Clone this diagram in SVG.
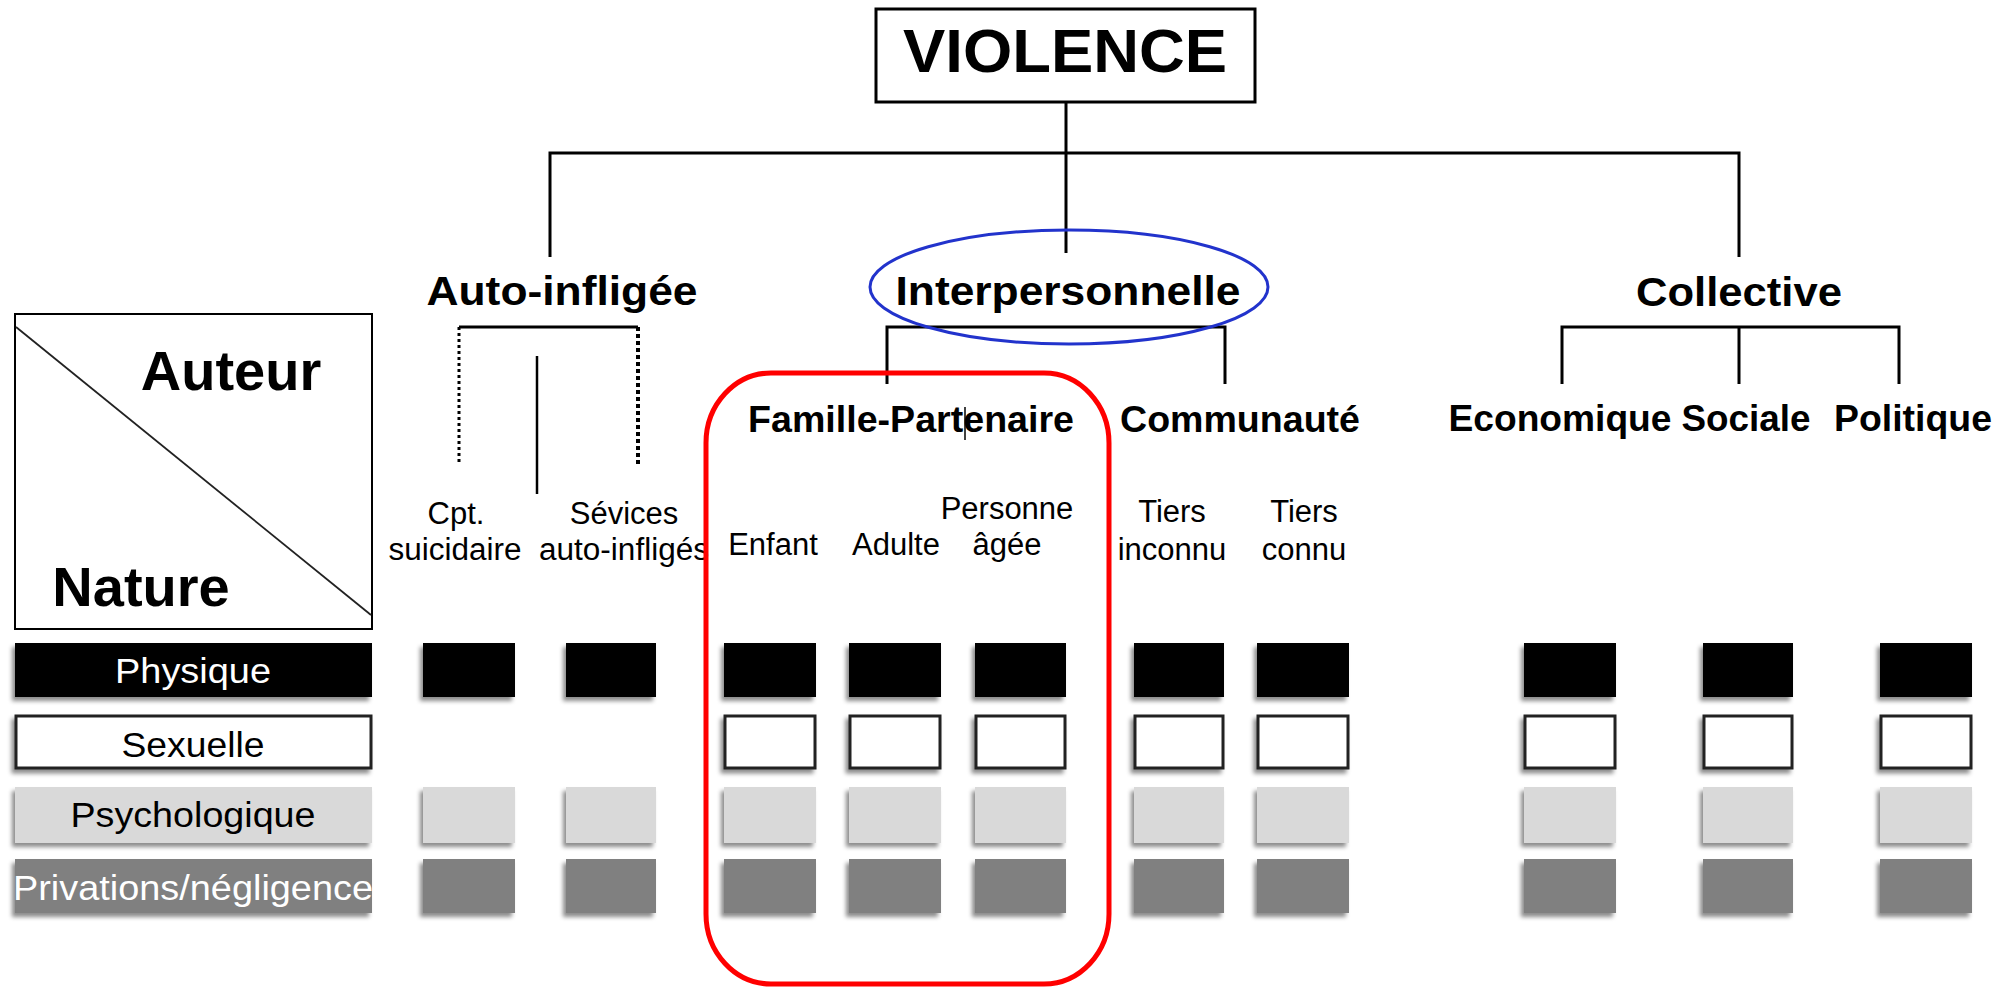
<svg xmlns="http://www.w3.org/2000/svg" width="2008" height="988" viewBox="0 0 2008 988">
<defs>
<filter id="sh" x="-20%" y="-20%" width="140%" height="150%">
<feDropShadow dx="-3" dy="4" stdDeviation="2" flood-color="#000" flood-opacity="0.45"/>
</filter>
<style>
text{font-family:"Liberation Sans",Arial,sans-serif;fill:#000}
.b{font-weight:bold}
.t1{font-size:41px;font-weight:bold;text-anchor:middle}
.t2{font-size:36px;font-weight:bold;text-anchor:middle}
.t3{font-size:31px;text-anchor:middle}
.rl{font-size:35px;text-anchor:middle}
.ln{stroke:#000;stroke-width:3;fill:none}
.blk{fill:#000}
.wht{fill:#fff;stroke:#222;stroke-width:3}
.lgt{fill:#d9d9d9}
.drk{fill:#808080}
</style>
</defs>
<rect width="2008" height="988" fill="#fff"/>

<g id="connectors">
<path class="ln" d="M1066 102 V253"/>
<path class="ln" d="M550 257 V153 H1739 V257"/>
<path class="ln" d="M459 327 H638"/>
<path d="M459 327 V462" stroke="#000" stroke-width="3" stroke-dasharray="3,3" fill="none"/>
<path d="M638 327 V465" stroke="#000" stroke-width="4" stroke-dasharray="4,3" fill="none"/>
<path d="M537 356 V494" stroke="#000" stroke-width="2.5" fill="none"/>
<path class="ln" d="M887 384 V327 H1225 V384"/>
<path class="ln" d="M1562 384 V327 H1899 V384 M1739 327 V384"/>
<path d="M965 407 V440" stroke="#000" stroke-width="1.5"/>
</g>

<g id="violence">
<rect x="876" y="9" width="379" height="93" fill="#fff" stroke="#000" stroke-width="3"/>
<text x="1065" y="72" class="b" font-size="61" text-anchor="middle" textLength="324" lengthAdjust="spacingAndGlyphs">VIOLENCE</text>
</g>

<g id="auto-infligee">
<text x="562" y="305" class="t1" textLength="271" lengthAdjust="spacingAndGlyphs">Auto-infligée</text>
</g>
<g id="interpersonnelle">
<text x="1068" y="305" class="t1" textLength="345" lengthAdjust="spacingAndGlyphs">Interpersonnelle</text>
<ellipse cx="1069" cy="287" rx="199" ry="57" fill="none" stroke="#2233cc" stroke-width="3"/>
</g>
<g id="collective">
<text x="1739" y="306" class="t1" textLength="206" lengthAdjust="spacingAndGlyphs">Collective</text>
</g>

<g id="famille-partenaire">
<text x="911" y="432" class="t2" textLength="326" lengthAdjust="spacingAndGlyphs">Famille-Partenaire</text>
</g>
<g id="communaute">
<text x="1240" y="432" class="t2" textLength="240" lengthAdjust="spacingAndGlyphs">Communauté</text>
</g>
<g id="economique">
<text x="1560" y="431" class="t2" textLength="223" lengthAdjust="spacingAndGlyphs">Economique</text>
</g>
<g id="sociale">
<text x="1746" y="431" class="t2" textLength="129" lengthAdjust="spacingAndGlyphs">Sociale</text>
</g>
<g id="politique">
<text x="1913" y="431" class="t2" textLength="158" lengthAdjust="spacingAndGlyphs">Politique</text>
</g>

<g id="cpt-suicidaire">
<text x="456" y="524" class="t3">Cpt.</text>
<text x="455" y="560" class="t3" textLength="133" lengthAdjust="spacingAndGlyphs">suicidaire</text>
</g>
<g id="sevices">
<text x="624" y="524" class="t3">Sévices</text>
<text x="624" y="560" class="t3" textLength="170" lengthAdjust="spacingAndGlyphs">auto-infligés</text>
</g>
<g id="enfant"><text x="773" y="555" class="t3">Enfant</text></g>
<g id="adulte"><text x="896" y="555" class="t3">Adulte</text></g>
<g id="personne-agee">
<text x="1007" y="519" class="t3">Personne</text>
<text x="1007" y="555" class="t3">âgée</text>
</g>
<g id="tiers-inconnu">
<text x="1172" y="522" class="t3">Tiers</text>
<text x="1172" y="560" class="t3">inconnu</text>
</g>
<g id="tiers-connu">
<text x="1304" y="522" class="t3">Tiers</text>
<text x="1304" y="560" class="t3">connu</text>
</g>

<g id="auteur-nature">
<rect x="15" y="314" width="357" height="315" fill="#fff" stroke="#000" stroke-width="2"/>
<path d="M16 327 L371 615" stroke="#222" stroke-width="1.8"/>
<text x="231" y="390" class="b" font-size="56" text-anchor="middle">Auteur</text>
<text x="141" y="606" class="b" font-size="56" text-anchor="middle">Nature</text>
</g>

<g id="legend">
<rect x="15" y="643" width="357" height="54" class="blk" filter="url(#sh)"/>
<text x="193" y="683" class="rl" fill="#fff" style="fill:#fff" textLength="156" lengthAdjust="spacingAndGlyphs">Physique</text>
<rect x="16" y="716" width="355" height="52" class="wht" filter="url(#sh)"/>
<text x="193" y="757" class="rl" textLength="143" lengthAdjust="spacingAndGlyphs">Sexuelle</text>
<rect x="15" y="787" width="357" height="56" class="lgt" filter="url(#sh)"/>
<text x="193" y="827" class="rl" textLength="245" lengthAdjust="spacingAndGlyphs">Psychologique</text>
<rect x="15" y="859" width="357" height="54" class="drk" filter="url(#sh)"/>
<text x="193" y="900" class="rl" style="fill:#fff" textLength="360" lengthAdjust="spacingAndGlyphs">Privations/négligence</text>
</g>

<g id="grid">
<g id="col-suicidaire">
<rect x="423" y="643" width="92" height="54" class="blk" filter="url(#sh)"/>
<rect x="423" y="787" width="92" height="56" class="lgt" filter="url(#sh)"/>
<rect x="423" y="859" width="92" height="54" class="drk" filter="url(#sh)"/>
</g>
<g id="col-sevices">
<rect x="566" y="643" width="90" height="54" class="blk" filter="url(#sh)"/>
<rect x="566" y="787" width="90" height="56" class="lgt" filter="url(#sh)"/>
<rect x="566" y="859" width="90" height="54" class="drk" filter="url(#sh)"/>
</g>
<g id="col-enfant">
<rect x="724" y="643" width="92" height="54" class="blk" filter="url(#sh)"/>
<rect x="725" y="716" width="90" height="52" class="wht" filter="url(#sh)"/>
<rect x="724" y="787" width="92" height="56" class="lgt" filter="url(#sh)"/>
<rect x="724" y="859" width="92" height="54" class="drk" filter="url(#sh)"/>
</g>
<g id="col-adulte">
<rect x="849" y="643" width="92" height="54" class="blk" filter="url(#sh)"/>
<rect x="850" y="716" width="90" height="52" class="wht" filter="url(#sh)"/>
<rect x="849" y="787" width="92" height="56" class="lgt" filter="url(#sh)"/>
<rect x="849" y="859" width="92" height="54" class="drk" filter="url(#sh)"/>
</g>
<g id="col-personne">
<rect x="975" y="643" width="91" height="54" class="blk" filter="url(#sh)"/>
<rect x="976" y="716" width="89" height="52" class="wht" filter="url(#sh)"/>
<rect x="975" y="787" width="91" height="56" class="lgt" filter="url(#sh)"/>
<rect x="975" y="859" width="91" height="54" class="drk" filter="url(#sh)"/>
</g>
<g id="col-inconnu">
<rect x="1134" y="643" width="90" height="54" class="blk" filter="url(#sh)"/>
<rect x="1135" y="716" width="88" height="52" class="wht" filter="url(#sh)"/>
<rect x="1134" y="787" width="90" height="56" class="lgt" filter="url(#sh)"/>
<rect x="1134" y="859" width="90" height="54" class="drk" filter="url(#sh)"/>
</g>
<g id="col-connu">
<rect x="1257" y="643" width="92" height="54" class="blk" filter="url(#sh)"/>
<rect x="1258" y="716" width="90" height="52" class="wht" filter="url(#sh)"/>
<rect x="1257" y="787" width="92" height="56" class="lgt" filter="url(#sh)"/>
<rect x="1257" y="859" width="92" height="54" class="drk" filter="url(#sh)"/>
</g>
<g id="col-economique">
<rect x="1524" y="643" width="92" height="54" class="blk" filter="url(#sh)"/>
<rect x="1525" y="716" width="90" height="52" class="wht" filter="url(#sh)"/>
<rect x="1524" y="787" width="92" height="56" class="lgt" filter="url(#sh)"/>
<rect x="1524" y="859" width="92" height="54" class="drk" filter="url(#sh)"/>
</g>
<g id="col-sociale">
<rect x="1703" y="643" width="90" height="54" class="blk" filter="url(#sh)"/>
<rect x="1704" y="716" width="88" height="52" class="wht" filter="url(#sh)"/>
<rect x="1703" y="787" width="90" height="56" class="lgt" filter="url(#sh)"/>
<rect x="1703" y="859" width="90" height="54" class="drk" filter="url(#sh)"/>
</g>
<g id="col-politique">
<rect x="1880" y="643" width="92" height="54" class="blk" filter="url(#sh)"/>
<rect x="1881" y="716" width="90" height="52" class="wht" filter="url(#sh)"/>
<rect x="1880" y="787" width="92" height="56" class="lgt" filter="url(#sh)"/>
<rect x="1880" y="859" width="92" height="54" class="drk" filter="url(#sh)"/>
</g>
</g>

<g id="highlight-famille">
<rect x="706" y="373" width="403" height="611" rx="65" ry="70" fill="none" stroke="#ff0000" stroke-width="5"/>
</g>
</svg>
